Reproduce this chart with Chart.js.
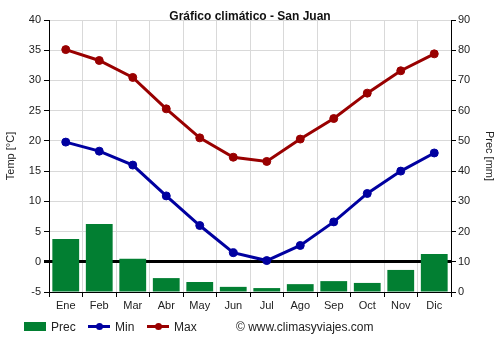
<!DOCTYPE html>
<html>
<head>
<meta charset="utf-8">
<script src="https://cdn.jsdelivr.net/npm/chart.js@4/dist/chart.umd.min.js"></script>
<style>
    body { margin: 0; background: #fff; font-family: Arial, "Liberation Sans", sans-serif; }
    #wrap { position: relative; width: 500px; height: 350px; }
    #chart { position: absolute; left: 0; top: 0; }
    .legend { position: absolute; top: 319px; font-size: 12px; color: #222; line-height: 16px; }
    .legend span { position: absolute; white-space: nowrap; }
    .box { width: 22px; height: 9px; top: 3px; background: #027f32; }
    .ln { width: 22px; height: 3px; top: 6px; }
    .dot { width: 7px; height: 7px; border-radius: 50%; top: 4px; }
</style>
</head>
<body>
<div id="wrap">
    <canvas id="chart" width="500" height="350"></canvas>
    <div class="legend">
        <span class="box" style="left:24px"></span>
        <span style="left:51px">Prec</span>
        <span class="ln" style="left:88px;background:#0000a0"></span>
        <span class="dot" style="left:96px;background:#0000a0"></span>
        <span style="left:115px">Min</span>
        <span class="ln" style="left:147px;background:#990000"></span>
        <span class="dot" style="left:155px;background:#990000"></span>
        <span style="left:174px">Max</span>
        <span style="left:236px">© www.climasyviajes.com</span>
    </div>
</div>
<script>
// Monthly climate data for San Juan
const months = ['Ene', 'Feb', 'Mar', 'Abr', 'May', 'Jun', 'Jul', 'Ago', 'Sep', 'Oct', 'Nov', 'Dic'];
const precMm = [17.5, 22.5, 11.0, 4.6, 3.3, 1.7, 1.3, 2.6, 3.6, 3.0, 7.3, 12.6];
const tempMin = [19.8, 18.3, 16.0, 10.9, 6.0, 1.5, 0.2, 2.7, 6.6, 11.3, 15.0, 18.0];
const tempMax = [35.1, 33.3, 30.5, 25.3, 20.5, 17.3, 16.6, 20.3, 23.7, 27.9, 31.6, 34.4];

const tickFont = { family: 'Arial, "Liberation Sans", sans-serif', size: 11 };
const tickColor = '#222';

// Draws the chart title over the top edge of the plot
const titlePlugin = {
    id: 'topTitle',
    afterDraw(chart) {
        const ctx = chart.ctx;
        ctx.save();
        ctx.font = 'bold 12px Arial, "Liberation Sans", sans-serif';
        ctx.fillStyle = '#111';
        ctx.textAlign = 'center';
        ctx.textBaseline = 'middle';
        ctx.fillText('Gráfico climático - San Juan', 250, 17);
        ctx.restore();
    }
};

new Chart(document.getElementById('chart'), {
    data: {
        labels: months,
        datasets: [
            {
                type: 'line',
                label: 'Max',
                data: tempMax,
                yAxisID: 'yTemp',
                borderColor: '#990000',
                backgroundColor: '#990000',
                borderWidth: 3,
                pointRadius: 4,
                pointBorderWidth: 1,
                pointHoverRadius: 4,
                order: 1
            },
            {
                type: 'line',
                label: 'Min',
                data: tempMin,
                yAxisID: 'yTemp',
                borderColor: '#0000a0',
                backgroundColor: '#0000a0',
                borderWidth: 3,
                pointRadius: 4,
                pointBorderWidth: 1,
                pointHoverRadius: 4,
                order: 2
            },
            {
                type: 'bar',
                label: 'Prec',
                data: precMm,
                yAxisID: 'yPrec',
                backgroundColor: '#027f32',
                barPercentage: 0.8,
                categoryPercentage: 1.0,
                order: 3
            }
        ]
    },
    options: {
        responsive: false,
        animation: false,
        layout: { padding: { top: 20, bottom: 33, left: 0, right: 0 } },
        plugins: {
            legend: { display: false },
            title: { display: false },
            tooltip: { enabled: false }
        },
        scales: {
            x: {
                offset: true,
                grid: {
                    offset: true,
                    color: '#d9d9d9',
                    tickColor: '#000',
                    tickLength: 5
                },
                border: { color: '#000', width: 1 },
                ticks: { font: tickFont, color: tickColor, padding: 2 },
                afterFit(scale) { scale.height = 25; }
            },
            yTemp: {
                position: 'left',
                min: -5,
                max: 40,
                ticks: { stepSize: 5, font: tickFont, color: tickColor, padding: 3 },
                grid: {
                    color: ctx => ctx.tick && ctx.tick.value === 0 ? '#000' : '#d9d9d9',
                    lineWidth: ctx => ctx.tick && ctx.tick.value === 0 ? 3 : 1,
                    tickColor: '#000',
                    tickLength: 5
                },
                border: { color: '#000', width: 1 },
                title: { display: true, text: 'Temp [°C]', font: tickFont, color: tickColor, padding: { top: 4, bottom: 0 } },
                afterFit(scale) { scale.width = 49; }
            },
            yPrec: {
                position: 'right',
                min: 0,
                max: 90,
                ticks: { stepSize: 10, font: tickFont, color: tickColor, padding: 2 },
                grid: { drawOnChartArea: false, tickColor: '#000', tickLength: 5 },
                border: { color: '#000', width: 1 },
                title: { display: true, text: 'Prec [mm]', font: tickFont, color: tickColor, padding: { top: 4, bottom: 0 } },
                afterFit(scale) { scale.width = 49; }
            }
        }
    },
    plugins: [titlePlugin]
});
</script>
</body>
</html>
